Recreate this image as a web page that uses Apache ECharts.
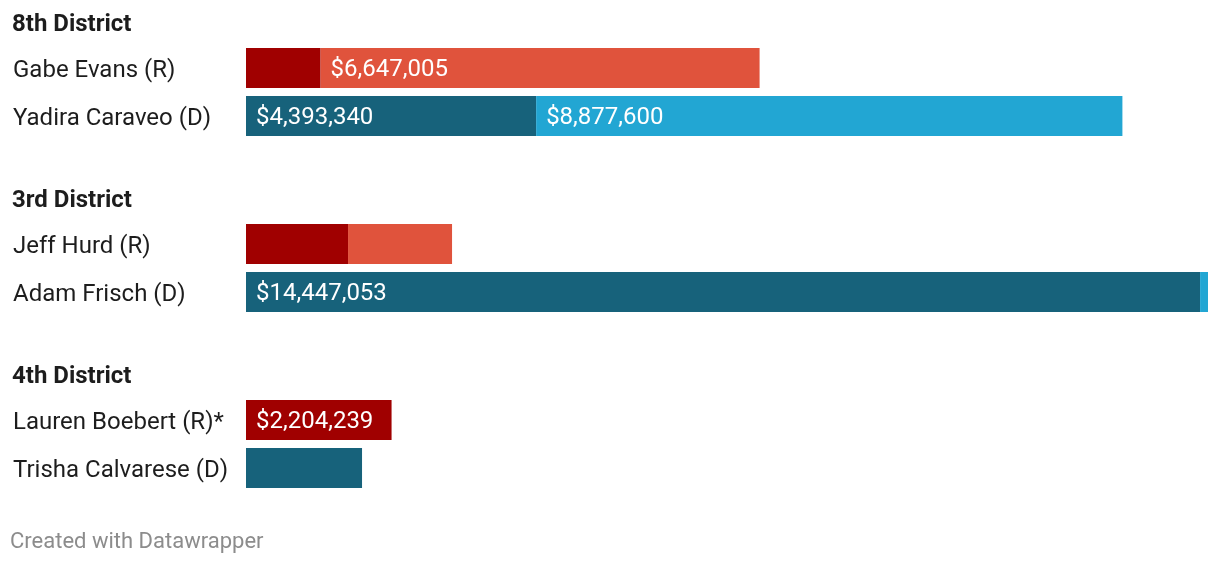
<!DOCTYPE html>
<html>
<head>
<meta charset="utf-8">
<script src="https://cdn.jsdelivr.net/npm/echarts@6/dist/echarts.min.js"></script>
<style>
html,body{margin:0;padding:0;background:#fff;}
#chart{width:1220px;height:564px;}
</style>
</head>
<body>
<div id="chart"></div>
<script>
const districts = ['8th District', '3rd District', '4th District'];
const names = ['Gabe Evans (R)', 'Yadira Caraveo (D)', 'Jeff Hurd (R)', 'Adam Frisch (D)', 'Lauren Boebert (R)*', 'Trisha Calvarese (D)'];
const party = ['R', 'D', 'R', 'D', 'R', 'D'];
const districtOf = [0, 0, 1, 1, 2, 2];
const campaign = [1130000, 4393340, 1545000, 14447053, 2204239, 1757000];
const outside = [6647005, 8877600, 1575000, 120000, 0, 0];
const footer = 'Created with Datawrapper';

const colors = {
  R: ['#a00000', '#e0533c'],
  D: ['#17627b', '#22a6d3']
};
const FONT = 'Roboto, "Noto Sans", sans-serif';
const maxTotal = Math.max(...campaign.map((v, i) => v + outside[i]));
const fmt = v => '$' + Math.round(v).toLocaleString('en-US');

const grids = [], xAxes = [], yAxes = [], series = [], graphics = [];
districts.forEach((d, gi) => {
  const top = 44 + gi * 176;
  grids.push({ left: 246, top: top, width: 962, height: 96 });
  xAxes.push({ type: 'value', gridIndex: gi, min: 0, max: maxTotal, show: false });
  const idx = names.map((n, i) => i).filter(i => districtOf[i] === gi);
  yAxes.push({
    type: 'category', gridIndex: gi, inverse: true,
    data: idx.map(i => names[i]),
    axisLine: { show: false }, axisTick: { show: false }, splitLine: { show: false },
    axisLabel: {
      align: 'left', margin: 233, fontSize: 24, fontFamily: FONT, color: '#1d1d1d',
      formatter: v => '{n|' + v + '}',
      rich: { n: { fontSize: 24, fontFamily: FONT, color: '#1d1d1d', padding: [5, 0, 0, 0] } }
    }
  });
  [campaign, outside].forEach((arr, k) => {
    series.push({
      type: 'bar', xAxisIndex: gi, yAxisIndex: gi, stack: 's' + gi,
      barWidth: 40, silent: true,
      data: idx.map(i => ({
        value: arr[i],
        itemStyle: { color: colors[party[i]][k] },
        label: { show: arr[i] >= 2000000 }
      })),
      label: {
        position: 'insideLeft', distance: 10, offset: [0, 2], color: '#ffffff',
        fontSize: 24, fontFamily: FONT,
        formatter: p => fmt(p.value)
      }
    });
  });
  graphics.push({
    type: 'text', left: 12, top: top - 31,
    style: { text: d, font: 'bold 24px ' + FONT, fill: '#1d1d1d' }
  });
});
graphics.push({
  type: 'text', left: 10, top: 531,
  style: { text: footer, font: '22px ' + FONT, fill: '#8c8c8c' }
});

const chart = echarts.init(document.getElementById('chart'), null, { renderer: 'canvas' });
chart.setOption({
  animation: false,
  backgroundColor: '#ffffff',
  grid: grids, xAxis: xAxes, yAxis: yAxes, series: series,
  graphic: graphics
});
</script>
</body>
</html>
